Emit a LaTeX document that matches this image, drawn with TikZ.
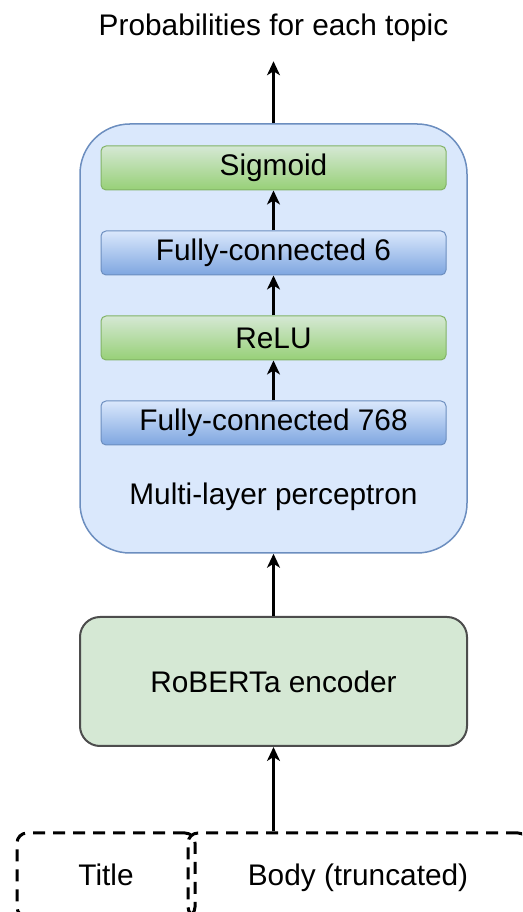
\documentclass[tikz,border=0pt]{standalone}
\usepackage{fontspec}
\setmainfont{Liberation Sans}
\usetikzlibrary{arrows.meta,positioning}
\definecolor{mlpfill}{HTML}{DAE8FC}
\definecolor{mlpdraw}{HTML}{6C8EBF}
\definecolor{bluebot}{HTML}{7EA6E0}
\definecolor{greentop}{HTML}{D5E8D4}
\definecolor{greenbot}{HTML}{97D077}
\definecolor{greendraw}{HTML}{82B366}
\definecolor{encdraw}{HTML}{4D4D4D}

\begin{document}
\begin{tikzpicture}[x=1pt, y=1pt, ->, >={Stealth[length=14pt, width=13pt, inset=4pt]}, line width=2.2pt, node distance=85pt,
    font=\fontsize{29.8}{36}\selectfont,
    layer/.style={rectangle, rounded corners=5pt, minimum width=345pt, minimum height=44pt, line width=1pt},
    act/.style={layer, draw=greendraw, top color=greentop, bottom color=greenbot},
    fc/.style={layer, draw=mlpdraw, top color=mlpfill, bottom color=bluebot},
    inbox/.style={draw, dash pattern=on 12pt off 8pt, line width=3pt, rounded corners=10pt, minimum height=84pt, text height=29pt, text depth=7pt}]
        \useasboundingbox (0,0) rectangle (522,912);
        \clip (0,0) rectangle (522,912);

        % Perceptron
        \node[rectangle, draw=mlpdraw, fill=mlpfill, line width=1.5pt, rounded corners=50pt, minimum width=387pt, minimum height=429pt] (mlp) at (273.5,573.5) {};
        \node[act] (sig) at (273.5,744) {Sigmoid};
        \node[fc, below of=sig] (fc6) {Fully-connected 6};
        \node[act, below of=fc6] (relu) {ReLU};
        \node[fc, below of=relu] (fc768) {Fully-connected 768};
        \node[below of=fc768, node distance=74pt] (mlplabel) {Multi-layer perceptron};

        % Encodeur
        \node[rectangle, draw=encdraw, fill=greentop, line width=2pt, rounded corners=20pt, minimum width=387pt, minimum height=129pt] (rob) at (273.5,230.5) {RoBERTa encoder};

        % Entrées
        \node[inbox, minimum width=178pt] (title) at (106,37) {Title};
        \node[inbox, minimum width=340pt] (body) at (358,37) {Body (truncated)};

        % Sortie
        \node[anchor=base, inner sep=0pt] (out) at (273.5,876) {Probabilities for each topic};

        % Flèches
        \draw (rob.south |- body.north) -- (rob.south);
        \draw (rob.north) -- (mlp.south);
        \draw (fc768.north) -- (relu.south);
        \draw (relu.north) -- (fc6.south);
        \draw (fc6.north) -- (sig.south);
        \draw[shorten >=18pt] (mlp.north) -- (out.south);
    \end{tikzpicture}
\end{document}
